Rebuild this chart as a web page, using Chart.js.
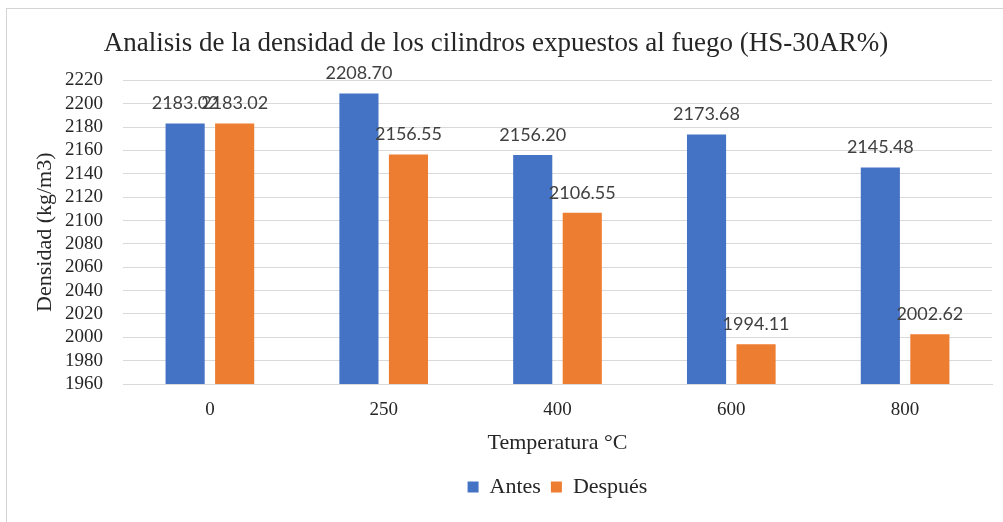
<!DOCTYPE html>
<html>
<head>
<meta charset="utf-8">
<script src="https://cdn.jsdelivr.net/npm/chart.js@4.4.0/dist/chart.umd.min.js"></script>
<style>
  body { margin: 0; background: #fff; }
  #frame { position: absolute; left: 6px; top: 8px; width: 1100px; height: 600px;
           border-top: 1px solid #d4d4d4; border-left: 1px solid #d4d4d4; }
  #wrap { position: absolute; left: 0; top: 0; width: 1003px; height: 522px; }
</style>
</head>
<body>
<div id="frame"></div>
<div id="wrap"><canvas id="myChart" width="1003" height="522"></canvas></div>
<script>
// data
const temperaturas = ["0", "250", "400", "600", "800"];
const antes = [2183.02, 2208.70, 2156.20, 2173.68, 2145.48];
const despues = [2183.02, 2156.55, 2106.55, 1994.11, 2002.62];
const yMin = 1960;
const yMax = 2220;
const yStep = 20;

const serif = "'Liberation Serif', 'Times New Roman', serif";

// labels above each bar, like the excel data labels
const barLabels = {
  id: "barLabels",
  afterDatasetsDraw(chart) {
    const ctx = chart.ctx;
    ctx.save();
    ctx.font = "18px Lato, 'Liberation Sans', sans-serif";
    ctx.fillStyle = "#404040";
    ctx.textAlign = "center";
    ctx.textBaseline = "middle";
    chart.data.datasets.forEach((ds, i) => {
      chart.getDatasetMeta(i).data.forEach((bar, j) => {
        ctx.fillText(ds.data[j].toFixed(2), bar.x, bar.y - 20);
      });
    });
    ctx.restore();
  },
};

// excel centres the legend under the plot area, not the whole chart
const legendUnderPlot = {
  id: "legendUnderPlot",
  afterLayout(chart) {
    const lg = chart.legend;
    if (!lg) return;
    lg.left = chart.chartArea.left;
    lg.right = chart.chartArea.right;
    lg.width = lg.right - lg.left;
  },
};

var ctx = document.getElementById("myChart").getContext("2d");
var myChart = new Chart(ctx, {
  type: "bar",
  data: {
    labels: temperaturas,
    datasets: [
      {
        label: "Antes",
        data: antes,
        backgroundColor: "#4472C4",
        categoryPercentage: 0.57,
        barPercentage: 0.79,
      },
      {
        label: "Después",
        data: despues,
        backgroundColor: "#ED7D31",
        categoryPercentage: 0.57,
        barPercentage: 0.79,
      },
    ],
  },
  options: {
    responsive: false,
    animation: false,
    layout: { padding: { left: 0, right: 11, top: 0, bottom: 14 } },
    plugins: {
      tooltip: { enabled: false },
      title: {
        display: true,
        text: "Analisis de la densidad de los cilindros expuestos al fuego (HS-30AR%)",
        color: "#262626",
        font: { family: serif, size: 27, weight: "normal" },
        padding: { top: 28, bottom: 20 },
      },
      legend: {
        position: "bottom",
        labels: {
          color: "#262626",
          font: { family: serif, size: 22 },
          boxWidth: 11,
          boxHeight: 11,
          padding: 10,
        },
      },
    },
    scales: {
      x: {
        grid: { display: false },
        border: { color: "#d9d9d9" },
        ticks: { color: "#262626", font: { family: serif, size: 19 }, padding: 7 },
        title: {
          display: true,
          text: "Temperatura °C",
          color: "#262626",
          font: { family: serif, size: 22 },
          padding: { top: 0, bottom: 10 },
        },
        afterFit: (scale) => { scale.height = 82; },
      },
      y: {
        min: yMin,
        max: yMax,
        grid: { color: "#d9d9d9", drawTicks: false },
        border: { display: false },
        ticks: {
          stepSize: yStep,
          autoSkip: false,
          color: "#262626",
          font: { family: serif, size: 19, lineHeight: 1 },
          padding: 20,
          callback: (v) => String(v),
        },
        title: {
          display: true,
          text: "Densidad (kg/m3)",
          color: "#262626",
          font: { family: serif, size: 22 },
          padding: { top: 32, bottom: 0 },
        },
        afterFit: (scale) => { scale.width = 123; },
      },
    },
  },
  plugins: [barLabels, legendUnderPlot],
});
</script>
</body>
</html>
